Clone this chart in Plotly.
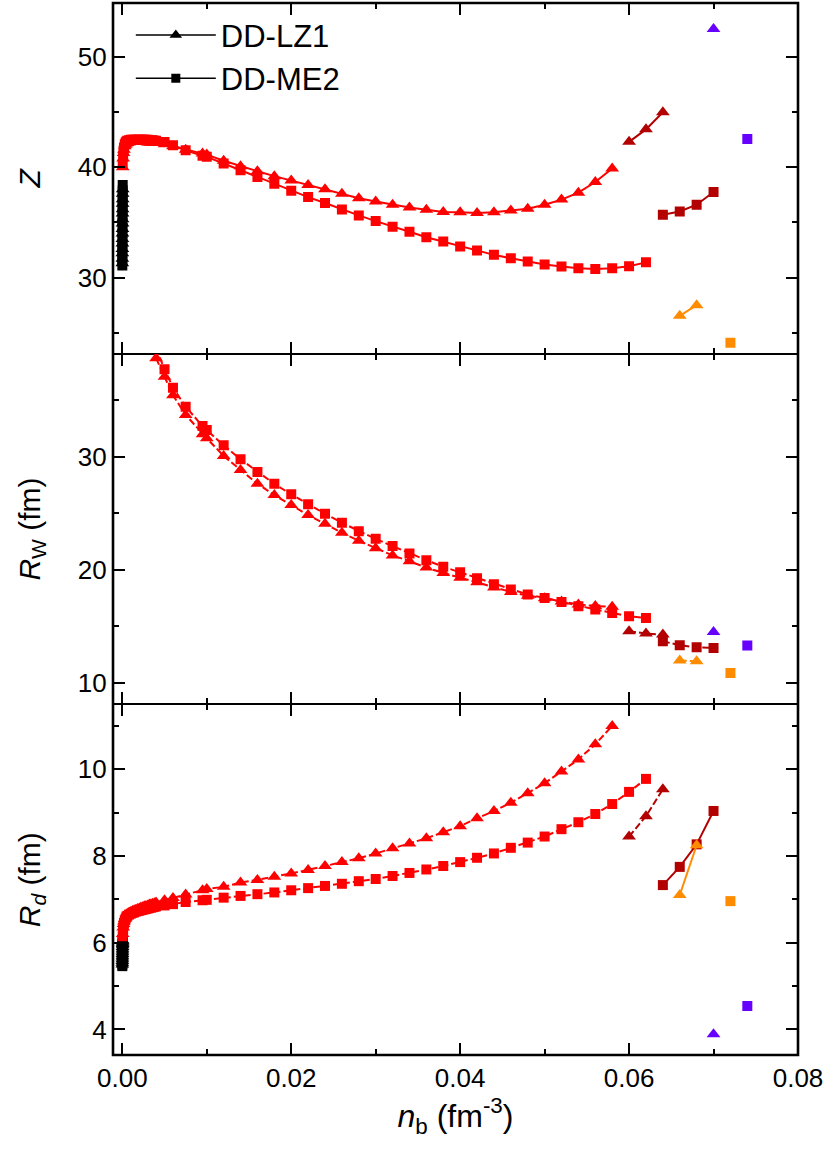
import plotly.graph_objects as go
from plotly.subplots import make_subplots

# ---- data ----
# DD-LZ1, main (red) branch
nb_lz1 = [0.00005, 0.0001, 0.00015, 0.0002, 0.0003, 0.0004, 0.0005, 0.0006, 0.0008, 0.001,
          0.0012, 0.0014, 0.0016, 0.0018, 0.002, 0.0022, 0.0024, 0.0026, 0.0028, 0.003,
          0.0032, 0.0034, 0.0036, 0.0038, 0.004, 0.005, 0.006, 0.0075, 0.0095, 0.01,
          0.012, 0.014, 0.016, 0.018, 0.02, 0.022, 0.024, 0.026, 0.028, 0.03,
          0.032, 0.034, 0.036, 0.038, 0.04, 0.042, 0.044, 0.046, 0.048, 0.05,
          0.052, 0.054, 0.056, 0.058]
z_lz1 = [40.0, 40.8, 41.3, 41.6, 41.9, 42.05, 42.15, 42.2, 42.25, 42.3,
         42.3, 42.3, 42.3, 42.3, 42.3, 42.3, 42.3, 42.3, 42.3, 42.25,
         42.25, 42.25, 42.2, 42.2, 42.2, 42.1, 41.9, 41.6, 41.25, 41.15,
         40.6, 40.1, 39.65, 39.2, 38.8, 38.4, 38.0, 37.6, 37.2, 36.9,
         36.6, 36.35, 36.15, 35.95, 35.92, 35.86, 35.92, 36.08, 36.25, 36.6,
         37.07, 37.7, 38.67, 39.9]
rw_lz1 = [None] * 24 + [38.7, 37.05, 35.43, 33.69, 31.98, 31.63,
                        30.06, 28.82, 27.61, 26.61, 25.73, 24.84, 24.07, 23.27, 22.57, 21.92,
                        21.28, 20.77, 20.2, 19.73, 19.3, 18.9, 18.45, 18.05, 17.72, 17.5,
                        17.2, 16.95, 16.8, 16.75]
rd_lz1 = [6.2, 6.35, 6.43, 6.49, 6.55, 6.6, 6.63, 6.65, 6.69, 6.71,
          6.73, 6.75, 6.76, 6.78, 6.79, 6.81, 6.82, 6.84, 6.85, 6.86,
          6.88, 6.89, 6.9, 6.91, 6.93, 6.98, 7.03, 7.11, 7.21, 7.24,
          7.29, 7.39, 7.45, 7.52, 7.6, 7.68, 7.77, 7.86, 7.95, 8.06,
          8.18, 8.29, 8.41, 8.55, 8.69, 8.87, 9.04, 9.23, 9.45, 9.68,
          9.95, 10.23, 10.58, 11.0]

# DD-ME2, main (red) branch
nb_me2 = [0.00005, 0.0001, 0.00015, 0.0002, 0.0003, 0.0004, 0.0005, 0.0006, 0.0008, 0.001,
          0.0012, 0.0014, 0.0016, 0.0018, 0.002, 0.0022, 0.0024, 0.0026, 0.0028, 0.003,
          0.0032, 0.0034, 0.0036, 0.0038, 0.004, 0.005, 0.006, 0.0075, 0.0095, 0.01,
          0.012, 0.014, 0.016, 0.018, 0.02, 0.022, 0.024, 0.026, 0.028, 0.03,
          0.032, 0.034, 0.036, 0.038, 0.04, 0.042, 0.044, 0.046, 0.048, 0.05,
          0.052, 0.054, 0.056, 0.058, 0.06, 0.062]
z_me2 = [40.3, 41.0, 41.5, 41.8, 42.1, 42.25, 42.35, 42.4, 42.45, 42.5,
         42.5, 42.5, 42.5, 42.5, 42.5, 42.5, 42.5, 42.5, 42.5, 42.5,
         42.45, 42.45, 42.45, 42.4, 42.4, 42.3, 42.0, 41.55, 41.05, 40.95,
         40.35, 39.74, 39.13, 38.52, 37.87, 37.3, 36.76, 36.18, 35.64, 35.12,
         34.6, 34.15, 33.66, 33.27, 32.81, 32.45, 32.06, 31.75, 31.45, 31.18,
         31.0, 30.84, 30.78, 30.84, 31.02, 31.38]
rw_me2 = [None] * 24 + [39.6, 37.73, 36.1, 34.42, 32.7, 32.36,
                        31.0, 29.77, 28.65, 27.6, 26.67, 25.79, 24.96, 24.16, 23.42, 22.74,
                        22.1, 21.45, 20.86, 20.27, 19.78, 19.25, 18.74, 18.26, 17.82, 17.52,
                        17.17, 16.79, 16.5, 16.2, 15.9, 15.75]
rd_me2 = [6.15, 6.3, 6.4, 6.46, 6.52, 6.56, 6.6, 6.62, 6.65, 6.67,
          6.69, 6.7, 6.72, 6.73, 6.74, 6.75, 6.76, 6.77, 6.78, 6.79,
          6.8, 6.81, 6.82, 6.83, 6.84, 6.86, 6.89, 6.94, 6.98, 6.99,
          7.04, 7.08, 7.12, 7.16, 7.21, 7.26, 7.31, 7.36, 7.42, 7.47,
          7.54, 7.61, 7.69, 7.77, 7.86, 7.96, 8.06, 8.19, 8.31, 8.45,
          8.62, 8.78, 8.97, 9.2, 9.48, 9.78]

# lowest densities (black)
nb_black = [0.000003, 0.000006, 0.000009, 0.000012, 0.000015, 0.000018, 0.000021, 0.000024,
            0.000027, 0.00003, 0.000033, 0.000036, 0.000039, 0.000042, 0.000045, 0.000048]
z_black_lz1 = [31.3, 31.7, 32.2, 32.6, 33.1, 33.5, 34.0, 34.4,
               34.9, 35.3, 35.8, 36.2, 36.7, 37.1, 37.6, 38.0]
z_black_me2 = [31.1, 31.6, 32.1, 32.6, 33.0, 33.5, 34.0, 34.5,
               35.0, 35.5, 36.0, 36.5, 36.9, 37.4, 37.9, 38.4]
rd_black_lz1 = [5.5, 5.54, 5.58, 5.62, 5.66, 5.7, 5.74, 5.78,
                5.82, 5.86, 5.9, 5.94, 5.97, 6.0, 6.03, 6.05]
rd_black_me2 = [5.46, 5.5, 5.54, 5.58, 5.62, 5.66, 5.7, 5.74,
                5.78, 5.82, 5.86, 5.9, 5.94, 5.98, 6.02, 6.06]

# dark red branch
nb_dr_lz1 = [0.06, 0.062, 0.064]
z_dr_lz1 = [42.31, 43.44, 44.99]
rw_dr_lz1 = [14.58, 14.37, 14.28]
rd_dr_lz1 = [8.45, 8.92, 9.54]
nb_dr_me2 = [0.064, 0.066, 0.068, 0.07]
z_dr_me2 = [35.7, 36.0, 36.61, 37.76]
rw_dr_me2 = [13.69, 13.34, 13.16, 13.1]
rd_dr_me2 = [7.33, 7.75, 8.27, 9.04]

# orange branch
nb_or_lz1 = [0.066, 0.068]
z_or_lz1 = [26.53, 27.5]
rw_or_lz1 = [12.0, 11.92]
rd_or_lz1 = [7.1, 8.25]
nb_or_me2 = [0.072]
z_or_me2 = [24.1]
rw_or_me2 = [10.89]
rd_or_me2 = [6.96]

# purple branch
nb_pu_lz1 = [0.07]
z_pu_lz1 = [52.55]
rw_pu_lz1 = [14.51]
rd_pu_lz1 = [3.89]
nb_pu_me2 = [0.074]
z_pu_me2 = [42.56]
rw_pu_me2 = [13.32]
rd_pu_me2 = [4.54]

RED = "#ff0000"
DARKRED = "#b30000"
ORANGE = "#ff8c00"
PURPLE = "#6600ff"
FONT = "Liberation Sans, Arial, sans-serif"

fig = make_subplots(rows=3, cols=1, shared_xaxes=True, vertical_spacing=0)


def add(x, y, row, color, symbol, dash="solid", lines=True):
    size = 12 if symbol == "triangle-up" else 10
    fig.add_trace(go.Scatter(
        x=x, y=y, mode="lines+markers" if lines else "markers",
        line=dict(color=color, width=2, dash=dash),
        marker=dict(color=color, symbol=symbol, size=size, line=dict(width=0)),
        showlegend=False), row=row, col=1)


dashed = "7px,3px"
# top panel: Z
add(nb_black, z_black_me2, 1, "black", "square")
add(nb_black, z_black_lz1, 1, "black", "triangle-up")
add(nb_me2, z_me2, 1, RED, "square")
add(nb_lz1, z_lz1, 1, RED, "triangle-up")
add(nb_dr_lz1, z_dr_lz1, 1, DARKRED, "triangle-up")
add(nb_dr_me2, z_dr_me2, 1, DARKRED, "square")
add(nb_or_lz1, z_or_lz1, 1, ORANGE, "triangle-up")
add(nb_or_me2, z_or_me2, 1, ORANGE, "square", lines=False)
add(nb_pu_lz1, z_pu_lz1, 1, PURPLE, "triangle-up", lines=False)
add(nb_pu_me2, z_pu_me2, 1, PURPLE, "square", lines=False)

# middle panel: R_W
add(nb_me2, rw_me2, 2, RED, "square", dashed)
add(nb_lz1, rw_lz1, 2, RED, "triangle-up", dashed)
add(nb_dr_lz1, rw_dr_lz1, 2, DARKRED, "triangle-up", dashed)
add(nb_dr_me2, rw_dr_me2, 2, DARKRED, "square", dashed)
add(nb_or_lz1, rw_or_lz1, 2, ORANGE, "triangle-up", dashed)
add(nb_or_me2, rw_or_me2, 2, ORANGE, "square", lines=False)
add(nb_pu_lz1, rw_pu_lz1, 2, PURPLE, "triangle-up", lines=False)
add(nb_pu_me2, rw_pu_me2, 2, PURPLE, "square", lines=False)

# bottom panel: R_d
add(nb_black, rd_black_me2, 3, "black", "square")
add(nb_black, rd_black_lz1, 3, "black", "triangle-up")
add(nb_me2, rd_me2, 3, RED, "square", dashed)
add(nb_lz1, rd_lz1, 3, RED, "triangle-up", dashed)
add(nb_dr_lz1, rd_dr_lz1, 3, DARKRED, "triangle-up", dashed)
add(nb_dr_me2, rd_dr_me2, 3, DARKRED, "square")
add(nb_or_lz1, rd_or_lz1, 3, ORANGE, "triangle-up")
add(nb_or_me2, rd_or_me2, 3, ORANGE, "square", lines=False)
add(nb_pu_lz1, rd_pu_lz1, 3, PURPLE, "triangle-up", lines=False)
add(nb_pu_me2, rd_pu_me2, 3, PURPLE, "square", lines=False)

# legend entries
for name, sym, size in [("DD-LZ1", "triangle-up", 11), ("DD-ME2", "square", 9)]:
    fig.add_trace(go.Scatter(x=[None], y=[None], mode="lines+markers", name=name,
                             line=dict(color="black", width=1.5),
                             marker=dict(color="black", symbol=sym, size=size)),
                  row=1, col=1)

axis_common = dict(showline=True, linecolor="black", linewidth=1.3, mirror="allticks",
                   ticks="inside", ticklen=12, tickwidth=2, tickcolor="black",
                   showgrid=False, zeroline=False, automargin=False,
                   tickfont=dict(family=FONT, size=26, color="black"))

for r in (1, 2, 3):
    fig.update_xaxes(axis_common, range=[-0.0011, 0.08], dtick=0.02, tick0=0,
                     tickformat=".2f",
                     minor=dict(dtick=0.01, tick0=0, ticks="inside", ticklen=6,
                                tickwidth=2, tickcolor="black"),
                     row=r, col=1)

fig.update_xaxes(title=dict(text="<i>n</i><sub>b</sub> (fm<sup>-3</sup>)",
                            font=dict(family=FONT, size=32, color="black"), standoff=10),
                 row=3, col=1)

minor_y = dict(ticks="inside", ticklen=6, tickwidth=2, tickcolor="black")
ytitle_font = dict(family=FONT, size=30, color="black")
fig.update_yaxes(axis_common, range=[23.1, 54.9], tick0=0, dtick=10,
                 minor=dict(minor_y, dtick=5, tick0=0),
                 title=dict(text="<i>Z</i>", font=ytitle_font, standoff=28),
                 row=1, col=1)
fig.update_yaxes(axis_common, range=[8.12, 39.1], tick0=0, dtick=10,
                 minor=dict(minor_y, dtick=5, tick0=0),
                 title=dict(text="<i>R</i><sub>W</sub> (fm)", font=ytitle_font, standoff=28),
                 row=2, col=1)
fig.update_yaxes(axis_common, range=[3.41, 11.5], tick0=0, dtick=2,
                 minor=dict(minor_y, dtick=1, tick0=0),
                 title=dict(text="<i>R<sub>d</sub></i> (fm)", font=ytitle_font, standoff=28),
                 row=3, col=1)

# outer frame
fig.add_shape(type="rect", xref="paper", yref="paper", x0=0, x1=1, y0=0, y1=1,
              line=dict(color="black", width=2.6), layer="above")

fig.update_layout(
    width=830, height=1155,
    margin=dict(l=113, r=32, t=3, b=100),
    plot_bgcolor="white", paper_bgcolor="white",
    font=dict(family=FONT, color="black"),
    legend=dict(x=0.026, y=0.995, xanchor="left", yanchor="top",
                bgcolor="rgba(0,0,0,0)", itemwidth=80,
                font=dict(family=FONT, size=31, color="black")),
)

fig.write_html("out.html", config={"displayModeBar": False},
               post_script="document.body.style.margin='0';")
